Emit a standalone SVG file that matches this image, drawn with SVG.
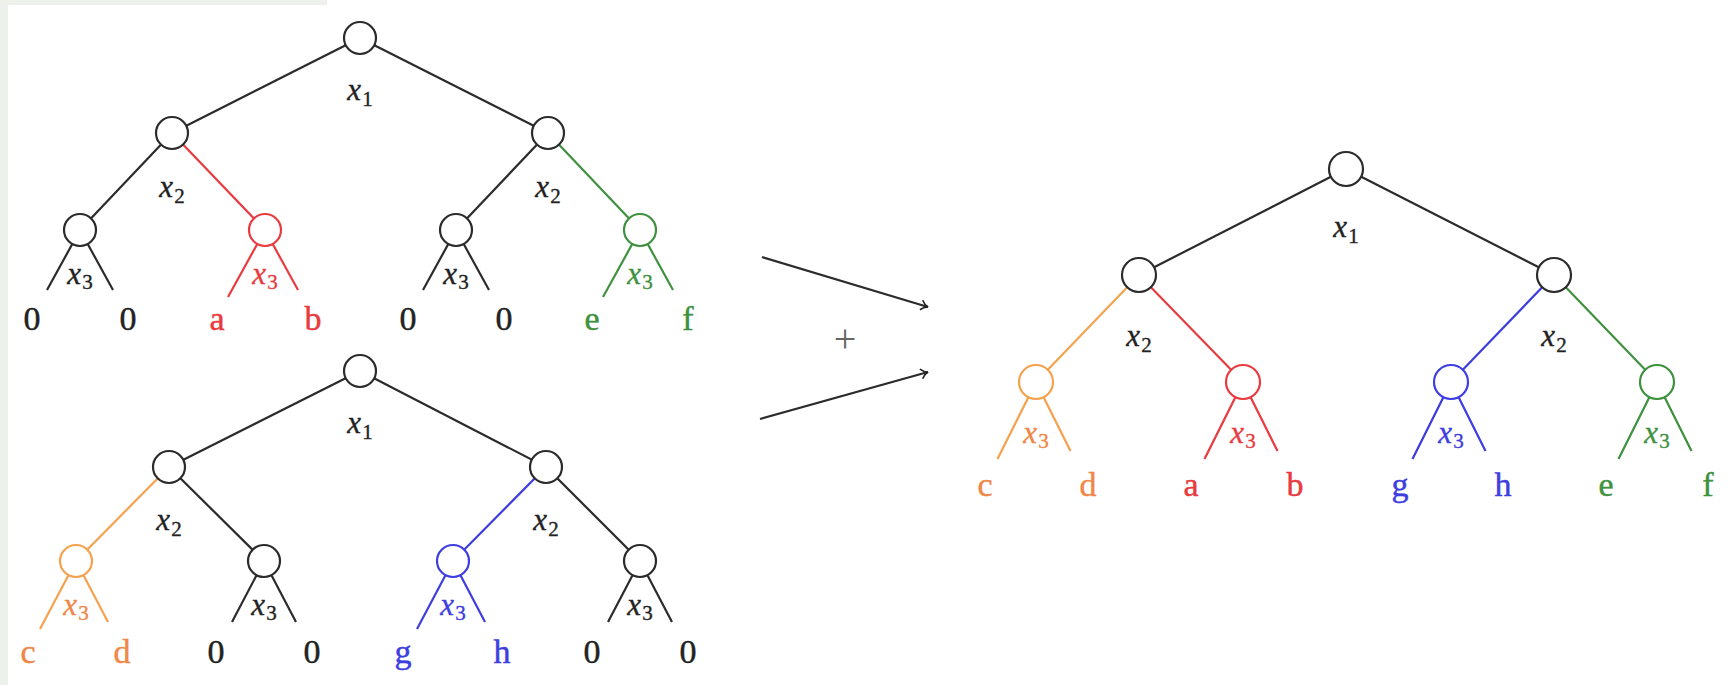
<svg xmlns="http://www.w3.org/2000/svg" width="1735" height="685" viewBox="0 0 1735 685" font-family="Liberation Serif, DejaVu Serif, serif">
<style>
.e{stroke:#2b2b2b;stroke-width:2.2;fill:none}
.er{stroke:#e83b40;stroke-width:2.2;fill:none}
.eg{stroke:#3f913f;stroke-width:2.2;fill:none}
.eo{stroke:#f4a24e;stroke-width:2.2;fill:none}
.eb{stroke:#3d3de0;stroke-width:2.2;fill:none}
.n{fill:#fff;stroke:#2b2b2b;stroke-width:2.2}
.nr{fill:#fff;stroke:#e83b40;stroke-width:2.2}
.ng{fill:#fff;stroke:#3f913f;stroke-width:2.2}
.no{fill:#fff;stroke:#f4a24e;stroke-width:2.2}
.nb{fill:#fff;stroke:#3d3de0;stroke-width:2.2}
.lab{font-style:italic;font-size:31px;text-anchor:middle;fill:#222;stroke:#222;stroke-width:0.35}
.sub{font-style:normal;font-size:21px}
.leaf{font-size:34px;text-anchor:middle;fill:#222;stroke:#222;stroke-width:0.45}
.cr{fill:#e83b40;stroke:#e83b40}.cg{fill:#3f913f;stroke:#3f913f}.co{fill:#ef8748;stroke:#ef8748}.cb{fill:#3d3de0;stroke:#3d3de0}
</style>
<defs>
<marker id="arr" markerWidth="14" markerHeight="14" refX="12" refY="7" orient="auto" markerUnits="userSpaceOnUse">
<path d="M5,2 Q8,6 12,7 Q8,8 5,12" fill="none" stroke="#222" stroke-width="1.6"/>
</marker>
</defs>
<rect x="0" y="0" width="1735" height="685" fill="#fff"/>
<rect x="0" y="0" width="327" height="5" fill="#eef0eb"/>
<rect x="0" y="0" width="8" height="685" fill="#eef0eb"/>

<g id="connectors">
<line class="e" x1="360" y1="38" x2="172" y2="133"/>
<line class="e" x1="360" y1="38" x2="548" y2="133"/>
<line class="e" x1="172" y1="133" x2="80" y2="230"/>
<line class="er" x1="172" y1="133" x2="265" y2="230"/>
<line class="e" x1="548" y1="133" x2="456" y2="230"/>
<line class="eg" x1="548" y1="133" x2="640" y2="230"/>
<line class="e" x1="80" y1="230" x2="47" y2="290"/>
<line class="e" x1="80" y1="230" x2="113" y2="290"/>
<line class="er" x1="265" y1="230" x2="228" y2="297"/>
<line class="er" x1="265" y1="230" x2="298" y2="290"/>
<line class="e" x1="456" y1="230" x2="423" y2="290"/>
<line class="e" x1="456" y1="230" x2="489" y2="290"/>
<line class="eg" x1="640" y1="230" x2="603" y2="297"/>
<line class="eg" x1="640" y1="230" x2="673" y2="290"/>
<line class="e" x1="360" y1="371" x2="169" y2="467"/>
<line class="e" x1="360" y1="371" x2="546" y2="467"/>
<line class="eo" x1="169" y1="467" x2="76" y2="561"/>
<line class="e" x1="169" y1="467" x2="264" y2="561"/>
<line class="eb" x1="546" y1="467" x2="453" y2="561"/>
<line class="e" x1="546" y1="467" x2="640" y2="561"/>
<line class="eo" x1="76" y1="561" x2="40" y2="629"/>
<line class="eo" x1="76" y1="561" x2="108" y2="622"/>
<line class="e" x1="264" y1="561" x2="232" y2="622"/>
<line class="e" x1="264" y1="561" x2="296" y2="622"/>
<line class="eb" x1="453" y1="561" x2="417" y2="629"/>
<line class="eb" x1="453" y1="561" x2="485" y2="622"/>
<line class="e" x1="640" y1="561" x2="608" y2="622"/>
<line class="e" x1="640" y1="561" x2="672" y2="622"/>
<line class="e" x1="1346" y1="169" x2="1139" y2="275"/>
<line class="e" x1="1346" y1="169" x2="1554" y2="275"/>
<line class="eo" x1="1139" y1="275" x2="1036" y2="382"/>
<line class="er" x1="1139" y1="275" x2="1243" y2="382"/>
<line class="eb" x1="1554" y1="275" x2="1451" y2="382"/>
<line class="eg" x1="1554" y1="275" x2="1657" y2="382"/>
<line class="eo" x1="1036" y1="382" x2="997.5" y2="459"/>
<line class="eo" x1="1036" y1="382" x2="1070.5" y2="451"/>
<line class="er" x1="1243" y1="382" x2="1204.5" y2="459"/>
<line class="er" x1="1243" y1="382" x2="1277.5" y2="451"/>
<line class="eb" x1="1451" y1="382" x2="1412.5" y2="459"/>
<line class="eb" x1="1451" y1="382" x2="1485.5" y2="451"/>
<line class="eg" x1="1657" y1="382" x2="1618.5" y2="459"/>
<line class="eg" x1="1657" y1="382" x2="1691.5" y2="451"/>
<line class="e" x1="762" y1="257" x2="928" y2="307" marker-end="url(#arr)"/>
<line class="e" x1="760" y1="419" x2="928" y2="372" marker-end="url(#arr)"/>
</g>

<text id="plus" x="845" y="352" font-size="40" text-anchor="middle" fill="#666">+</text>

<g id="t1-root"><circle class="n" cx="360" cy="38" r="16"/><text class="lab" x="360" y="100">x<tspan class="sub" dx="1" dy="6">1</tspan></text></g>
<g id="t1-a"><circle class="n" cx="172" cy="133" r="16"/><text class="lab" x="172" y="197">x<tspan class="sub" dx="1" dy="6">2</tspan></text></g>
<g id="t1-b"><circle class="n" cx="548" cy="133" r="16"/><text class="lab" x="548" y="197">x<tspan class="sub" dx="1" dy="6">2</tspan></text></g>
<g id="t1-a1"><circle class="n" cx="80" cy="230" r="16"/><text class="lab" x="80" y="284">x<tspan class="sub" dx="1" dy="5">3</tspan></text></g>
<g id="t1-a2"><circle class="nr" cx="265" cy="230" r="16"/><text class="lab cr" x="265" y="284">x<tspan class="sub" dx="1" dy="5">3</tspan></text></g>
<g id="t1-b1"><circle class="n" cx="456" cy="230" r="16"/><text class="lab" x="456" y="284">x<tspan class="sub" dx="1" dy="5">3</tspan></text></g>
<g id="t1-b2"><circle class="ng" cx="640" cy="230" r="16"/><text class="lab cg" x="640" y="284">x<tspan class="sub" dx="1" dy="5">3</tspan></text></g>
<g id="t1-leaves">
<text class="leaf" x="32" y="330">0</text>
<text class="leaf" x="128" y="330">0</text>
<text class="leaf cr" x="217" y="330">a</text>
<text class="leaf cr" x="313" y="330">b</text>
<text class="leaf" x="408" y="330">0</text>
<text class="leaf" x="504" y="330">0</text>
<text class="leaf cg" x="592" y="330">e</text>
<text class="leaf cg" x="688" y="330">f</text>
</g>

<g id="t2-root"><circle class="n" cx="360" cy="371" r="16"/><text class="lab" x="360" y="433">x<tspan class="sub" dx="1" dy="6">1</tspan></text></g>
<g id="t2-a"><circle class="n" cx="169" cy="467" r="16"/><text class="lab" x="169" y="530">x<tspan class="sub" dx="1" dy="6">2</tspan></text></g>
<g id="t2-b"><circle class="n" cx="546" cy="467" r="16"/><text class="lab" x="546" y="530">x<tspan class="sub" dx="1" dy="6">2</tspan></text></g>
<g id="t2-a1"><circle class="no" cx="76" cy="561" r="16"/><text class="lab co" x="76" y="615">x<tspan class="sub" dx="1" dy="5">3</tspan></text></g>
<g id="t2-a2"><circle class="n" cx="264" cy="561" r="16"/><text class="lab" x="264" y="615">x<tspan class="sub" dx="1" dy="5">3</tspan></text></g>
<g id="t2-b1"><circle class="nb" cx="453" cy="561" r="16"/><text class="lab cb" x="453" y="615">x<tspan class="sub" dx="1" dy="5">3</tspan></text></g>
<g id="t2-b2"><circle class="n" cx="640" cy="561" r="16"/><text class="lab" x="640" y="615">x<tspan class="sub" dx="1" dy="5">3</tspan></text></g>
<g id="t2-leaves">
<text class="leaf co" x="28" y="663">c</text>
<text class="leaf co" x="122" y="663">d</text>
<text class="leaf" x="216" y="663">0</text>
<text class="leaf" x="312" y="663">0</text>
<text class="leaf cb" x="403" y="663">g</text>
<text class="leaf cb" x="502" y="663">h</text>
<text class="leaf" x="592" y="663">0</text>
<text class="leaf" x="688" y="663">0</text>
</g>

<g id="t3-root"><circle class="n" cx="1346" cy="169" r="17"/><text class="lab" x="1346" y="237">x<tspan class="sub" dx="1" dy="6">1</tspan></text></g>
<g id="t3-a"><circle class="n" cx="1139" cy="275" r="17"/><text class="lab" x="1139" y="346">x<tspan class="sub" dx="1" dy="6">2</tspan></text></g>
<g id="t3-b"><circle class="n" cx="1554" cy="275" r="17"/><text class="lab" x="1554" y="346">x<tspan class="sub" dx="1" dy="6">2</tspan></text></g>
<g id="t3-a1"><circle class="no" cx="1036" cy="382" r="17"/><text class="lab co" x="1036" y="443">x<tspan class="sub" dx="1" dy="5">3</tspan></text></g>
<g id="t3-a2"><circle class="nr" cx="1243" cy="382" r="17"/><text class="lab cr" x="1243" y="443">x<tspan class="sub" dx="1" dy="5">3</tspan></text></g>
<g id="t3-b1"><circle class="nb" cx="1451" cy="382" r="17"/><text class="lab cb" x="1451" y="443">x<tspan class="sub" dx="1" dy="5">3</tspan></text></g>
<g id="t3-b2"><circle class="ng" cx="1657" cy="382" r="17"/><text class="lab cg" x="1657" y="443">x<tspan class="sub" dx="1" dy="5">3</tspan></text></g>
<g id="t3-leaves">
<text class="leaf co" x="985" y="496">c</text>
<text class="leaf co" x="1088" y="496">d</text>
<text class="leaf cr" x="1191" y="496">a</text>
<text class="leaf cr" x="1295" y="496">b</text>
<text class="leaf cb" x="1400" y="496">g</text>
<text class="leaf cb" x="1503" y="496">h</text>
<text class="leaf cg" x="1606" y="496">e</text>
<text class="leaf cg" x="1708" y="496">f</text>
</g>
</svg>
